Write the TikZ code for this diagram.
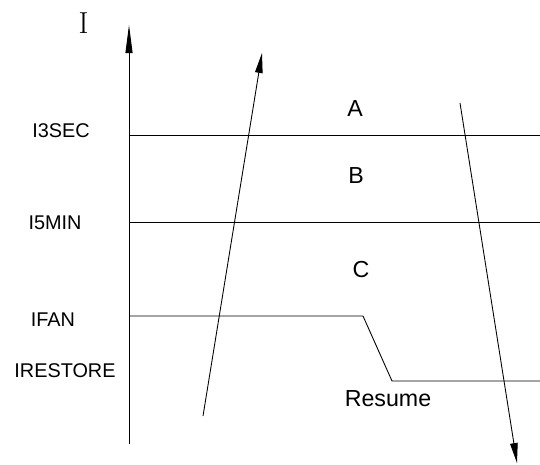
\documentclass[tikz,border=0pt]{standalone}
\usepackage{fontspec}
\newfontfamily\labelfont{Liberation Sans}
\usetikzlibrary{arrows.meta,positioning}
\tikzset{lbl/.style={font=\labelfont\fontsize{11.3}{13}\selectfont, inner sep=0pt},
	region/.style={font=\labelfont\fontsize{13.2}{15}\selectfont, inner sep=0pt},
	axisarrow/.style={-{Triangle[length=0.56cm,width=0.14cm]}},
	timearrow/.style={-{Triangle[length=0.4cm,width=0.15cm]}}}

\begin{document}
\begin{tikzpicture}[x=0.02cm, y=-0.02cm, line width=0.5pt]
		\useasboundingbox (0,0) rectangle (540,464);
		% axis and levels
		\coordinate (ybot) at (129,444);
		\coordinate (ytop) at (129,25);
		\node (ylab) at (83.5,23) {\LARGE I};
		\node[lbl] (i3sec) at (61,130.5) {I3SEC};
		\node[lbl] (i5min) at (55,223) {I5MIN};
		\node[lbl] (ifan) at (53,320) {IFAN};
		\node[lbl] (irestore) at (65,371) {IRESTORE};
		\node[region] (a) at (355,109) {A};
		\node[region] (b) at (356,176) {B};
		\node[region] (c) at (361,270) {C};
		\node[region] (resume) at (388,399) {Resume};
		\coordinate (s0) at (129,135);
		\coordinate (s1) at (540,135);
		\coordinate (m0) at (129,222);
		\coordinate (m1) at (540,222);
		\coordinate (f0) at (129,316);
		\coordinate (f1) at (363,316);
		\coordinate (f2) at (392,381);
		\coordinate (f3) at (540,381);
		\coordinate (l0) at (203,416);
		\coordinate (l1) at (262,53);
		\coordinate (r0) at (460,103);
		\coordinate (r1) at (517,463);
		\draw[axisarrow] (ybot)--(ytop);
		\draw (s0)--(s1);
		\draw (m0)--(m1);
		\draw (f0)--(f1)--(f2)--(f3);
		\draw[timearrow] (l0)--(l1);
		\draw[timearrow] (r0)--(r1);
		\end{tikzpicture}
\end{document}
